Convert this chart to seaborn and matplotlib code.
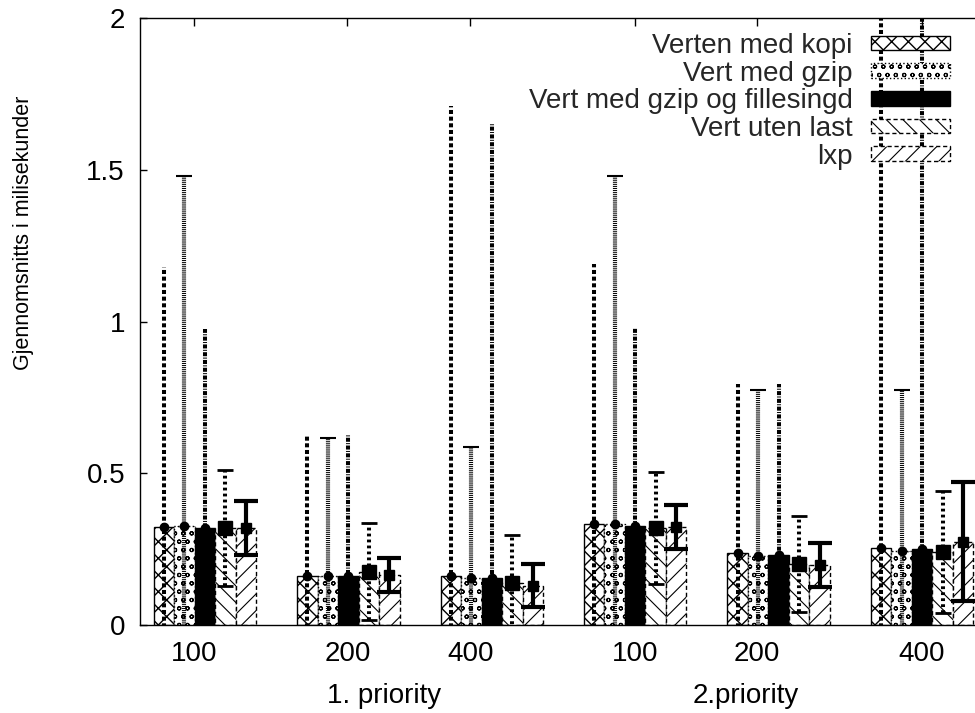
import matplotlib
matplotlib.use("Agg")
import matplotlib.pyplot as plt
import seaborn as sns
import pandas as pd
from matplotlib.patches import Patch

# ---------------- data ----------------
groups = ["1-100", "1-200", "1-400", "2-100", "2-200", "2-400"]
tick_labels = ["100", "200", "400", "100", "200", "400"]
priority_labels = ["1. priority", "2.priority"]
series = ["Verten med kopi", "Vert med gzip", "Vert med gzip og fillesingd",
          "Vert uten last", "lxp"]

kopi_mean = [0.323, 0.163, 0.162, 0.333, 0.237, 0.255]
kopi_err = [0.857, 0.462, 1.548, 0.857, 0.558, 2.050]
gzip_mean = [0.325, 0.160, 0.155, 0.333, 0.228, 0.245]
gzip_err = [1.155, 0.455, 0.430, 1.147, 0.547, 0.530]
fil_mean = [0.320, 0.160, 0.155, 0.327, 0.232, 0.250]
fil_err = [0.655, 0.465, 1.495, 0.653, 0.563, 2.050]
uten_mean = [0.320, 0.175, 0.140, 0.320, 0.200, 0.240]
uten_err = [0.190, 0.160, 0.155, 0.185, 0.158, 0.200]
lxp_mean = [0.320, 0.165, 0.130, 0.323, 0.198, 0.275]
lxp_err = [0.090, 0.055, 0.070, 0.072, 0.072, 0.195]

means = [kopi_mean, gzip_mean, fil_mean, uten_mean, lxp_mean]
errs = [kopi_err, gzip_err, fil_err, uten_err, lxp_err]

rows = []
for s, m in zip(series, means):
    for g, v in zip(groups, m):
        rows.append({"group": g, "series": s, "value": v})
df = pd.DataFrame(rows)

# ---------------- style ----------------
sns.set_theme(style="white")
plt.rcParams["font.family"] = ["Liberation Sans", "DejaVu Sans"]
plt.rcParams["axes.edgecolor"] = "black"
plt.rcParams["lines.scale_dashes"] = False
plt.rcParams["hatch.linewidth"] = 1.0

face = ["white", "white", "black", "white", "white"]
hatches = ["xx", "oo", "", "\\\\", "//"]
hatch_col = ["black", "0.35", "black", "0.45", "0.45"]
hatch_lw = [1.0, 0.8, 1.0, 0.8, 0.8]
edge_ls = ["-", ":", "-", (0, (3, 2)), (0, (3, 2))]
err_ls = [(0, (2.9, 1.9)), (0, (0.7, 0.7)), (0, (2.9, 1.0, 0.7, 1.0)),
          (0, (2.0, 2.3)), "-"]
err_lw = [2.9, 3.0, 2.9, 2.9, 3.0]
mk = ["o", "o", "o", "s", "s"]
mk_size = [6, 6, 6, 9.5, 7.5]
caps = [0, 5.5, 0, 5.5, 8.5]
capthick = [1, 1.5, 1, 2, 3]


def style_patch(p, i):
    p.set_hatch(hatches[i])
    p.set_linestyle(edge_ls[i])
    p.set_edgecolor("black")
    try:
        p.set_hatchcolor(hatch_col[i])
    except AttributeError:
        pass
    if hasattr(p, "_hatch_linewidth"):
        p._hatch_linewidth = hatch_lw[i]


fig = plt.figure(figsize=(9.75, 7.13), dpi=100)
ax = fig.add_axes([140 / 975, 88 / 713, (983 - 140) / 975, (625 - 18) / 713])

sns.barplot(data=df, x="group", y="value", hue="series", order=groups,
            hue_order=series, width=5 / 7, gap=0, errorbar=None,
            palette=face, saturation=1, legend=False, ax=ax,
            edgecolor="black", linewidth=1.0)

bar_conts = [c for c in ax.containers
             if all(hasattr(p, "set_hatch") for p in c)][:5]

for i, cont in enumerate(bar_conts):
    xs = []
    for p in cont:
        style_patch(p, i)
        p.set_zorder(2)
        xs.append(p.get_x() + p.get_width() / 2)
    eb = ax.errorbar(xs, means[i], yerr=errs[i], fmt=mk[i], color="black",
                     ms=mk_size[i], elinewidth=err_lw[i], capsize=caps[i],
                     capthick=capthick[i], zorder=4)
    for lc in eb[2]:
        lc.set_linestyle(err_ls[i])
        lc.set_capstyle("butt")

ax.set_xlim(-0.453, 5.425)
ax.set_ylim(0, 2)
ax.set_yticks([0, 0.5, 1, 1.5, 2])
ax.set_yticklabels(["0", "0.5", "1", "1.5", "2"])
tick_pos = [-0.073, 0.993, 1.85, 3.0, 3.85, 5.0]
ax.set_xticks(tick_pos)
ax.set_xticklabels(tick_labels)
ax.set_xlabel("")
ax.set_ylabel("")
ax.tick_params(axis="x", direction="in", top=True, bottom=True, length=6,
               width=1, labelsize=20, pad=11.5, colors="black")
ax.tick_params(axis="y", direction="in", left=True, right=True, length=5,
               width=1, labelsize=20, pad=10.8, colors="black")
for sp in ax.spines.values():
    sp.set_visible(True)
    sp.set_linewidth(1.0)
    sp.set_color("black")
    sp.set_zorder(5)

# priority group labels
for px, lab in zip([384, 746], priority_labels):
    fig.text(px / 975, 1 - 696 / 713, lab, ha="center", va="center",
             fontsize=20, color="black")

fig.text(24 / 975, 1 - 233 / 713, "Gjennomsnitts i milisekunder",
         rotation=90, ha="center", va="center", fontsize=15.5, color="black")

handles = []
for i in range(5):
    h = Patch(facecolor=face[i], edgecolor="black", hatch=hatches[i],
              linestyle=edge_ls[i], linewidth=1.0)
    handles.append(h)
leg = ax.legend(handles, series, loc="upper right",
                bbox_to_anchor=(950 / 975, 1 - 33 / 713),
                bbox_transform=fig.transFigure, frameon=False,
                markerfirst=False, handlelength=2.86, handleheight=0.43,
                handletextpad=0.64, labelspacing=0.06, borderpad=0,
                borderaxespad=0, fontsize=20)
for i, p in enumerate(leg.get_patches()):
    style_patch(p, i)

fig.savefig("out.png", dpi=100)
